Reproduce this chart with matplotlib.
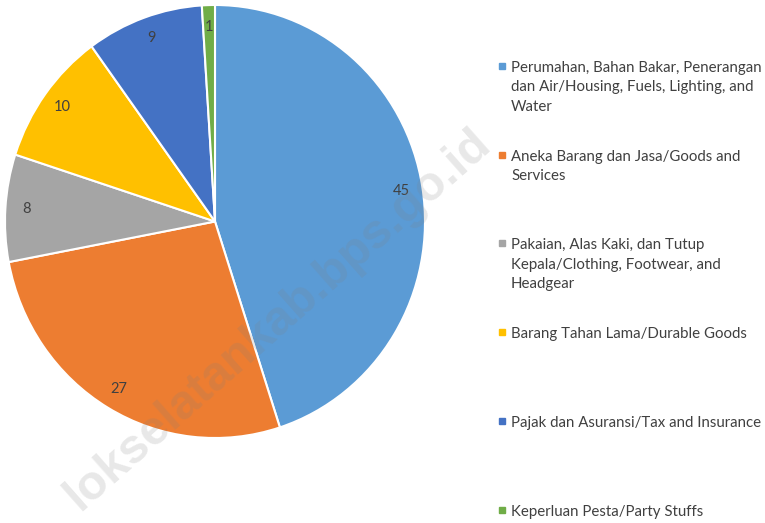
import numpy as np
import matplotlib.pyplot as plt
from matplotlib.patches import Rectangle

kategori = [
    "Perumahan, Bahan Bakar, Penerangan\ndan Air/Housing, Fuels, Lighting, and\nWater",
    "Aneka Barang dan Jasa/Goods and\nServices",
    "Pakaian, Alas Kaki, dan Tutup\nKepala/Clothing, Footwear, and\nHeadgear",
    "Barang Tahan Lama/Durable Goods",
    "Pajak dan Asuransi/Tax and Insurance",
    "Keperluan Pesta/Party Stuffs",
]
nilai = [45, 27, 8, 10, 9, 1]
warna = ["#5B9BD5", "#ED7D31", "#A5A5A5", "#FFC000", "#4472C4", "#70AD47"]

W, H = 765, 523
plt.rcParams["font.family"] = ["Lato", "DejaVu Sans"]
fig = plt.figure(figsize=(W / 100, H / 100), dpi=100)

# pie area in px (slightly stretched, like the source)
cx, cy, rx, ry = 215, 221.5, 210, 216.5
ax = fig.add_axes([(cx - rx) / W, (H - cy - ry) / H, 2 * rx / W, 2 * ry / H])
wedges, texts, autotexts = ax.pie(
    nilai, colors=warna, startangle=90, counterclock=False,
    autopct=lambda p: "{:.0f}".format(p), pctdistance=0.9,
    wedgeprops=dict(edgecolor="white", linewidth=1.5),
    textprops=dict(color="#404040", fontsize=10.5),
)
ax.set_xlim(-1, 1)
ax.set_ylim(-1, 1)
ax.set_aspect("auto")

# overlay in pixel coords for legend and watermark
ov = fig.add_axes([0, 0, 1, 1])
ov.set_xlim(0, W)
ov.set_ylim(H, 0)
ov.axis("off")

y_pos = [66, 155, 243, 332, 421, 510]
for lab, c, y in zip(kategori, warna, y_pos):
    ov.add_patch(Rectangle((499, y - 3), 6, 6, color=c))
    ov.text(511, y - 5, lab, fontsize=10.8, color="#404040", va="top",
            linespacing=1.5)

ov.text(278, 320, "lokselatankab.bps.go.id", rotation=41.5, rotation_mode="anchor",
        ha="center", va="center", fontsize=35, fontweight="bold",
        family="Liberation Sans", color="#808080", alpha=0.18)

fig.savefig("out.png", dpi=100)
